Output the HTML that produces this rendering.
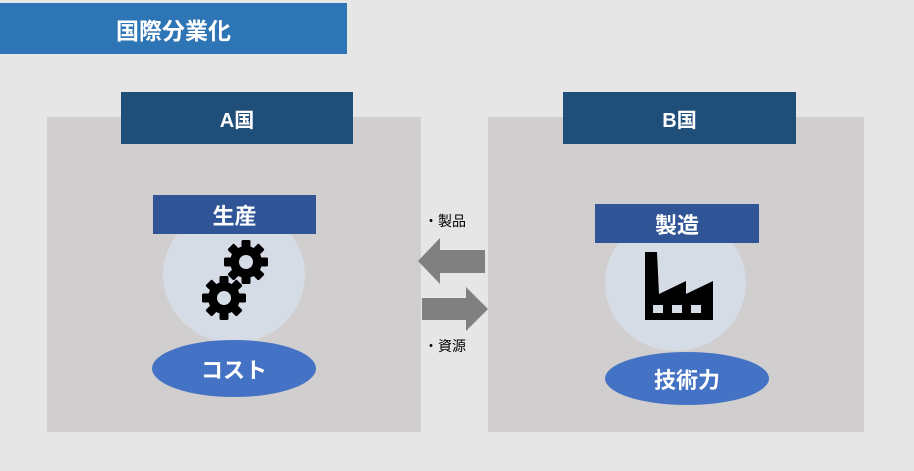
<!DOCTYPE html>
<html><head><meta charset="utf-8"><style>
body{margin:0;width:914px;height:471px;background:#e7e6e6;position:relative;overflow:hidden;font-family:"Liberation Sans","Noto Sans CJK JP",sans-serif;}
div{position:absolute;box-sizing:border-box;}
.c{display:flex;align-items:center;justify-content:center;color:#fff;font-weight:bold;}
</style></head><body>
<div class="c" style="left:0;top:3px;width:347px;height:51px;background:#2e75b6;font-size:23px;">国際分業化</div>
<div style="left:47px;top:117px;width:374px;height:315px;background:#d0cece;"></div>
<div style="left:488px;top:117px;width:376px;height:315px;background:#d0cece;"></div>
<div class="c" style="left:121px;top:92px;width:232px;height:52px;background:#1f4e79;font-size:20px;">A国</div>
<div class="c" style="left:563px;top:92px;width:233px;height:52px;background:#1f4e79;font-size:20px;">B国</div>
<div style="left:163px;top:207px;width:142px;height:136px;border-radius:50%;background:#d6dce5;"></div>
<div style="left:605px;top:215px;width:141px;height:136px;border-radius:50%;background:#d6dce5;"></div>
<div class="c" style="left:153px;top:195px;width:163px;height:39px;background:#2f5597;font-size:22px;">生産</div>
<div class="c" style="left:595px;top:204px;width:164px;height:39px;background:#2f5597;font-size:22px;">製造</div>
<div class="c" style="left:152px;top:340px;width:164px;height:57px;border-radius:50%;background:#4472c4;font-size:22px;">コスト</div>
<div class="c" style="left:605px;top:352px;width:164px;height:53px;border-radius:50%;background:#4472c4;font-size:22px;">技術力</div>
<svg style="position:absolute;left:0;top:0" width="914" height="471">
<g fill="#000">
<g transform="translate(246,262)">
<circle r="16"/>
<g id="t"><rect x="-4.5" y="-22" width="9" height="9" rx="1.5"/></g>
<use href="#t" transform="rotate(45)"/><use href="#t" transform="rotate(90)"/><use href="#t" transform="rotate(135)"/><use href="#t" transform="rotate(180)"/><use href="#t" transform="rotate(225)"/><use href="#t" transform="rotate(270)"/><use href="#t" transform="rotate(315)"/>
<circle r="7" fill="#d6dce5"/>
</g>
<g transform="translate(224,298)">
<circle r="16"/>
<use href="#t"/><use href="#t" transform="rotate(45)"/><use href="#t" transform="rotate(90)"/><use href="#t" transform="rotate(135)"/><use href="#t" transform="rotate(180)"/><use href="#t" transform="rotate(225)"/><use href="#t" transform="rotate(270)"/><use href="#t" transform="rotate(315)"/>
<circle r="7" fill="#d6dce5"/>
</g>
<path d="M645,252 H657 L659,294 L686,281 V294 L713,281 V320 H645 Z"/>
</g>
<g fill="#d6dce5"><rect x="653" y="305" width="10" height="8"/><rect x="672" y="305" width="10" height="8"/><rect x="691" y="305" width="10" height="8"/></g>
<rect x="421" y="117" width="67" height="315" fill="#e7e6e6"/>
<path d="M418,261 L440,238 V250 H485 V273 H440 V284 Z" fill="#808080"/>
<path d="M488,309 L466,287 V298 H422 V320 H466 V331 Z" fill="#808080"/>
<text x="424" y="226" font-size="14" fill="#000" font-family="Liberation Sans,Noto Sans CJK JP,sans-serif">・製品</text>
<text x="424" y="351" font-size="14" fill="#000" font-family="Liberation Sans,Noto Sans CJK JP,sans-serif">・資源</text>
</svg>
</body></html>
